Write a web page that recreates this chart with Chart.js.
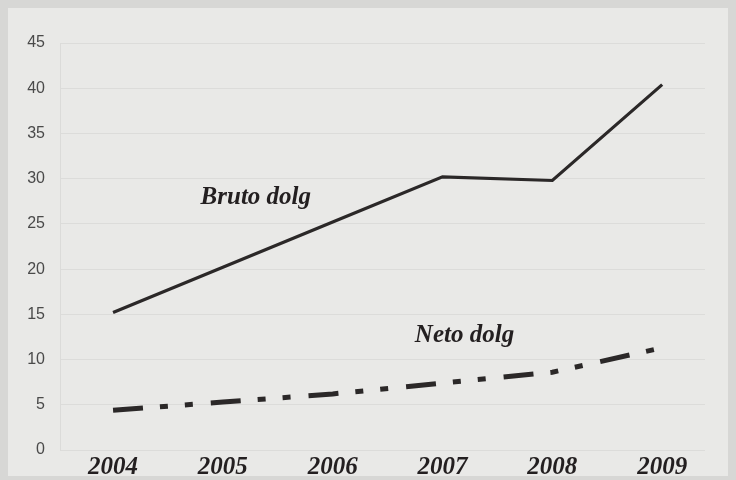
<!DOCTYPE html>
<html>
<head>
<meta charset="utf-8">
<script src="https://cdn.jsdelivr.net/npm/chart.js@4"></script>
<style>
    html, body { margin: 0; padding: 0; }
    body { width: 736px; height: 480px; background: #d7d7d5; position: relative; overflow: hidden; }
    .panel { position: absolute; left: 8px; top: 8px; right: 8px; bottom: 4px; background: #e9e9e7; }
    .wrap { position: absolute; left: 0; top: 0; width: 736px; height: 480px; }
</style>
</head>
<body>
<div class="panel"></div>
<div class="wrap"><canvas id="debtChart" width="736" height="480"></canvas></div>
<script>
const years = [2004, 2005, 2006, 2007, 2008, 2009];
const brutoDolg = [15.2, 20.2, 25.2, 30.2, 29.8, 40.4];
const netoDolg = [4.4, 5.3, 6.2, 7.4, 8.6, 11.3];
const yTicks = [0, 5, 10, 15, 20, 25, 30, 35, 40, 45];

const lineColor = '#2b2828';
const serifBold = 'bold italic 25px "Liberation Serif", "Times New Roman", serif';

const toPoints = (values) => values.map((v, i) => ({ x: years[i], y: v }));

// series names written next to the lines, anchored in data coordinates
const seriesLabels = [
    { text: 'Bruto dolg', x: 2005.3, y: 27.9 },
    { text: 'Neto dolg', x: 2007.2, y: 12.6 }
];

const labelPlugin = {
    id: 'seriesLabels',
    afterDatasetsDraw(chart) {
        const { ctx, scales } = chart;
        ctx.save();
        ctx.font = serifBold;
        ctx.fillStyle = '#231f20';
        ctx.textAlign = 'center';
        ctx.textBaseline = 'middle';
        seriesLabels.forEach(l => {
            ctx.fillText(l.text, scales.x.getPixelForValue(l.x), scales.y.getPixelForValue(l.y));
        });
        ctx.restore();
    }
};

const ctx = document.getElementById('debtChart').getContext('2d');

const chart = new Chart(ctx, {
    type: 'line',
    data: {
        datasets: [{
            label: 'Bruto dolg',
            data: toPoints(brutoDolg),
            borderColor: lineColor,
            borderWidth: 3.2,
            pointRadius: 0,
            tension: 0,
            borderJoinStyle: 'miter'
        }, {
            label: 'Neto dolg',
            data: toPoints(netoDolg),
            borderColor: lineColor,
            borderWidth: 5,
            borderDash: [30, 17, 8, 17, 8, 18],
            borderCapStyle: 'butt',
            pointRadius: 0,
            tension: 0
        }]
    },
    options: {
        responsive: false,
        animation: false,
        layout: { padding: { top: 43, right: 31, bottom: 0, left: 0 } },
        plugins: {
            legend: { display: false },
            tooltip: { enabled: false }
        },
        scales: {
            x: {
                type: 'linear',
                min: 2003.517,
                max: 2009.39,
                afterBuildTicks: (scale) => {
                    scale.ticks = years.map(v => ({ value: v }));
                },
                afterFit: (scale) => { scale.height = 30; },
                grid: { display: false, drawTicks: false },
                border: { display: false },
                ticks: {
                    padding: 3,
                    color: '#231f20',
                    font: { family: '"Liberation Serif", "Times New Roman", serif', size: 25, style: 'italic', weight: 'bold' },
                    callback: (v) => String(v)
                }
            },
            y: {
                min: 0,
                max: 45,
                afterBuildTicks: (scale) => {
                    scale.ticks = yTicks.map(v => ({ value: v }));
                },
                afterFit: (scale) => { scale.width = 60; },
                grid: { color: 'rgba(0,0,0,0.055)', drawTicks: false, lineWidth: 1 },
                border: { display: true, color: 'rgba(0,0,0,0.06)' },
                ticks: {
                    padding: 15,
                    color: '#4a4a4a',
                    font: { family: '"Liberation Sans", Arial, sans-serif', size: 16 }
                }
            }
        }
    },
    plugins: [labelPlugin]
});
</script>
</body>
</html>
